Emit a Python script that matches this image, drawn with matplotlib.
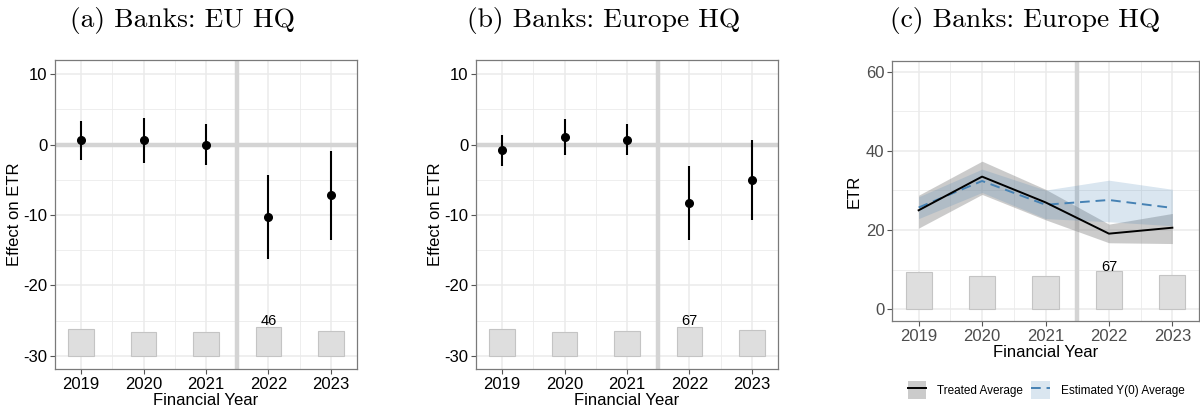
import matplotlib
matplotlib.use("Agg")
import matplotlib.pyplot as plt
from matplotlib.patches import Patch
from matplotlib.lines import Line2D
from matplotlib.ticker import FixedLocator

plt.rcParams["axes.unicode_minus"] = False

years = [2019, 2020, 2021, 2022, 2023]

# Panel (a): Banks EU HQ
a_est = [0.6, 0.6, 0.0, -10.3, -7.2]
a_lo = [-2.2, -2.65, -2.85, -16.25, -13.5]
a_hi = [3.3, 3.8, 2.85, -4.25, -0.9]
a_counts = [43, 38, 38, 46, 39]

# Panel (b): Banks Europe HQ
b_est = [-0.8, 1.1, 0.7, -8.3, -5.1]
b_lo = [-3.05, -1.45, -1.45, -13.5, -10.7]
b_hi = [1.4, 3.6, 2.85, -3.1, 0.6]
b_counts = [62, 56, 57, 67, 60]

# Panel (c): Treated vs counterfactual averages
c_treat = [25.0, 33.5, 27.0, 19.1, 20.6]
c_treat_lo = [20.5, 29.0, 22.6, 16.8, 16.6]
c_treat_hi = [28.8, 37.4, 30.3, 21.5, 24.2]
c_y0 = [25.7, 32.4, 26.4, 27.6, 25.6]
c_y0_lo = [22.9, 29.5, 22.9, 22.1, 21.1]
c_y0_hi = [28.4, 35.4, 30.1, 32.6, 30.3]
c_counts = [65, 58, 59, 67, 61]

titles = ["(a) Banks: EU HQ", "(b) Banks: Europe HQ", "(c) Banks: Europe HQ"]

W, H = 1200, 407
fig = plt.figure(figsize=(12, 4.07), dpi=100)

def box(l, t, r, b):
    return [l / W, 1 - b / H, (r - l) / W, (b - t) / H]

grid_c = "#EBEBEB"
bar_fill = "#DEDEDE"
bar_edge = "#C4C4C4"
line_gray = "#D4D4D4"
SANS = "Liberation Sans"

def style(ax, ylim, yticks, tickcolor):
    ax.set_xlim(2018.58, 2023.42)
    ax.set_ylim(*ylim)
    ax.xaxis.set_major_locator(FixedLocator(years))
    ax.xaxis.set_minor_locator(FixedLocator([2019.5, 2020.5, 2021.5, 2022.5]))
    ax.yaxis.set_major_locator(FixedLocator(yticks))
    step = yticks[1] - yticks[0]
    ax.yaxis.set_minor_locator(FixedLocator([t + step / 2 for t in yticks]))
    ax.grid(which="major", color=grid_c, lw=1.1, zorder=0)
    ax.grid(which="minor", color=grid_c, lw=0.6, zorder=0)
    ax.set_axisbelow(True)
    for s in ax.spines.values():
        s.set_color("#7A7A7A")
        s.set_linewidth(0.9)
    ax.tick_params(which="major", length=3.5, width=0.8, color="#555555",
                   labelsize=12, labelcolor=tickcolor, pad=2)
    ax.tick_params(which="minor", length=0)
    ax.set_xlabel("Financial Year", fontsize=12, labelpad=1, fontfamily=SANS)
    for lab in ax.get_xticklabels() + ax.get_yticklabels():
        lab.set_fontfamily(SANS)

def count_bars(ax, counts, base, maxh, labelsize=10.5):
    mx = max(counts)
    h = [c / mx * maxh for c in counts]
    ax.bar(years, h, bottom=base, width=0.41, color=bar_fill, edgecolor=bar_edge,
           linewidth=0.8, zorder=1)
    i = counts.index(mx)
    ax.text(years[i], base + h[i] - 0.2 * maxh / 4.1 * (1 if base < 0 else 1.5), str(mx),
            ha="center", va="bottom", fontsize=labelsize, fontfamily=SANS, zorder=5)

def coef_panel(rect, est, lo, hi, counts):
    ax = fig.add_axes(rect)
    ax.axhline(0, color=line_gray, lw=3.2, zorder=1.5)
    ax.axvline(2021.5, color=line_gray, lw=3.2, zorder=1.5)
    count_bars(ax, counts, -30, 4.1)
    ax.vlines(years, lo, hi, color="black", lw=1.5, zorder=3)
    ax.plot(years, est, "o", color="black", ms=5.5, zorder=4)
    style(ax, (-31.85, 12), [-30, -20, -10, 0, 10], "black")
    ax.set_ylabel("Effect on ETR", fontsize=12, labelpad=1, fontfamily=SANS)
    return ax

axa = coef_panel(box(55, 60, 357, 369), a_est, a_lo, a_hi, a_counts)
axb = coef_panel(box(476, 60, 778, 369), b_est, b_lo, b_hi, b_counts)

# Panel (c)
axc = fig.add_axes(box(892, 61, 1199, 321))
axc.axvline(2021.5, color=line_gray, lw=3.2, zorder=1.5)
count_bars(axc, c_counts, 0, 9.6)
axc.fill_between(years, c_treat_lo, c_treat_hi, color="#7F7F7F", alpha=0.4, lw=0, zorder=2)
axc.fill_between(years, c_y0_lo, c_y0_hi, color="#4682B4", alpha=0.2, lw=0, zorder=2.1)
axc.plot(years, c_y0, color="#4682B4", lw=1.4, ls=(0, (5, 3)), zorder=3)
axc.plot(years, c_treat, color="black", lw=1.4, zorder=3.1)
style(axc, (-2.96, 62.7), [0, 20, 40, 60], "#4D4D4D")
axc.set_ylabel("ETR", fontsize=12, labelpad=3, fontfamily=SANS)

h1 = (Patch(facecolor="#7F7F7F", alpha=0.4, edgecolor="none"), Line2D([], [], color="black", lw=1.4))
h2 = (Patch(facecolor="#4682B4", alpha=0.2, edgecolor="none"),
      Line2D([], [], color="#4682B4", lw=1.4, ls=(0, (5, 3))))
leg = fig.legend([h1, h2], ["Treated Average", "Estimated Y(0) Average"],
                 loc="center", bbox_to_anchor=(1046 / W, 1 - 390 / H), ncol=2,
                 frameon=False, prop={"family": SANS, "size": 8.5},
                 handlelength=1.6, handleheight=1.9, handletextpad=0.9, columnspacing=0.7)

for x, t in zip([182, 604, 1025], titles):
    fig.text(x / W, 1 - 20 / H, t, ha="center", va="center", fontsize=19.8, fontfamily="cmr10")

fig.savefig("out.png", dpi=100)
